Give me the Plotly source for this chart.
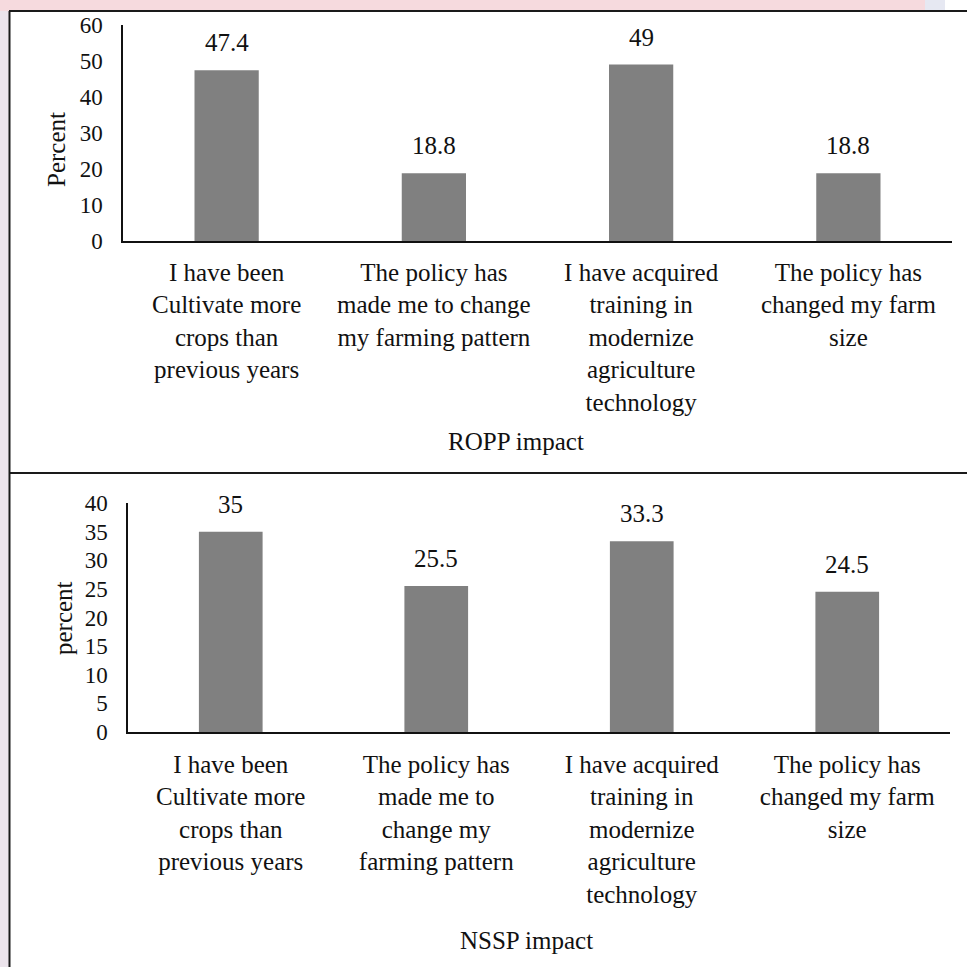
import plotly.graph_objects as go

# Survey responses on policy impact (percent of respondents)
ropp_categories = [
    "I have been<br>Cultivate more<br>crops than<br>previous years",
    "The policy has<br>made me to change<br>my farming pattern",
    "I have acquired<br>training in<br>modernize<br>agriculture<br>technology",
    "The policy has<br>changed my farm<br>size",
]
ropp_values = [47.4, 18.8, 49, 18.8]

nssp_categories = [
    "I have been<br>Cultivate more<br>crops than<br>previous years",
    "The policy has<br>made me to<br>change my<br>farming pattern",
    "I have acquired<br>training in<br>modernize<br>agriculture<br>technology",
    "The policy has<br>changed my farm<br>size",
]
nssp_values = [35, 25.5, 33.3, 24.5]

ropp_ticks = [0, 10, 20, 30, 40, 50, 60]
nssp_ticks = [0, 5, 10, 15, 20, 25, 30, 35, 40]

W = H = 967
FONT = "Times New Roman, Liberation Serif, serif"
BAR = "#808080"
INK = "#111111"


def px(x):
    return x / W


def py(y):
    return 1 - y / H


fig = go.Figure()
fig.add_trace(go.Bar(x=ropp_categories, y=ropp_values, marker_color=BAR,
                     marker_line_width=0, width=0.31, xaxis="x", yaxis="y",
                     hoverinfo="skip"))
fig.add_trace(go.Bar(x=nssp_categories, y=nssp_values, marker_color=BAR,
                     marker_line_width=0, width=0.31, xaxis="x2", yaxis="y2",
                     hoverinfo="skip"))

annotations = []
# value labels above each bar
for cats, vals, xr, yr in [(ropp_categories, ropp_values, "x", "y"),
                           (nssp_categories, nssp_values, "x2", "y2")]:
    for c, v in zip(cats, vals):
        annotations.append(dict(x=c, y=v, xref=xr, yref=yr, text=str(v),
                                showarrow=False, yanchor="bottom", yshift=12,
                                font=dict(family=FONT, size=25, color=INK)))

# axis titles and panel captions
annotations += [
    dict(x=px(57), y=py(150), xref="paper", yref="paper", text="Percent",
         textangle=-90, xanchor="center", yanchor="middle", showarrow=False,
         font=dict(family=FONT, size=25, color=INK)),
    dict(x=px(63), y=py(618), xref="paper", yref="paper", text="percent",
         textangle=-90, xanchor="center", yanchor="middle", showarrow=False,
         font=dict(family=FONT, size=25, color=INK)),
    dict(x=px(516), y=py(442), xref="paper", yref="paper", text="ROPP impact",
         xanchor="center", yanchor="middle", showarrow=False,
         font=dict(family=FONT, size=25, color=INK)),
    dict(x=px(526), y=py(940), xref="paper", yref="paper", text="NSSP impact",
         xanchor="center", yanchor="middle", showarrow=False,
         font=dict(family=FONT, size=25, color=INK)),
]

shapes = [
    # soft tinted strips around the frame
    dict(type="rect", xref="paper", yref="paper", x0=0, x1=px(925), y0=py(11), y1=1,
         fillcolor="#f6dade", line_width=0, layer="below"),
    dict(type="rect", xref="paper", yref="paper", x0=px(925), x1=px(945), y0=py(11), y1=1,
         fillcolor="#e6e8f2", line_width=0, layer="below"),
    dict(type="rect", xref="paper", yref="paper", x0=0, x1=px(9), y0=0, y1=py(11),
         fillcolor="#ece4ec", line_width=0, layer="below"),
    # frame lines
    dict(type="line", xref="paper", yref="paper", x0=px(9), x1=1, y0=py(11), y1=py(11),
         line=dict(color="#1a1a1a", width=2)),
    dict(type="line", xref="paper", yref="paper", x0=px(9.5), x1=px(9.5), y0=0, y1=py(11),
         line=dict(color="#1a1a1a", width=2)),
    dict(type="line", xref="paper", yref="paper", x0=px(9), x1=1, y0=py(473), y1=py(473),
         line=dict(color="#1a1a1a", width=2)),
]

xaxis_common = dict(showgrid=False, zeroline=False, showline=True, linecolor=INK,
                    linewidth=1.5, ticks="", tickangle=0, fixedrange=True, automargin=False,
                    tickfont=dict(family=FONT, size=25, color=INK))
yaxis_common = dict(showgrid=False, zeroline=False, showline=True, linecolor=INK,
                    linewidth=1.5, ticks="", fixedrange=True, automargin=False,
                    tickfont=dict(family=FONT, size=23, color=INK))

fig.update_layout(
    template="none",
    width=W, height=H, autosize=False,
    margin=dict(l=0, r=0, t=0, b=0, pad=0),
    paper_bgcolor="white", plot_bgcolor="white",
    showlegend=False, bargap=0.69,
    font=dict(family=FONT, color=INK),
    xaxis=dict(domain=[px(123), px(952)], anchor="y", ticklabelstandoff=8, **xaxis_common),
    yaxis=dict(domain=[py(241), py(25)], anchor="x", range=[0, 60], tickvals=ropp_ticks,
               ticklabelstandoff=14, **yaxis_common),
    xaxis2=dict(domain=[px(128), px(950)], anchor="y2", ticklabelstandoff=9, **xaxis_common),
    yaxis2=dict(domain=[py(732), py(503)], anchor="x2", range=[0, 40], tickvals=nssp_ticks,
                ticklabelstandoff=14, **yaxis_common),
    annotations=annotations,
    shapes=shapes,
)

fig.write_html("out.html")
